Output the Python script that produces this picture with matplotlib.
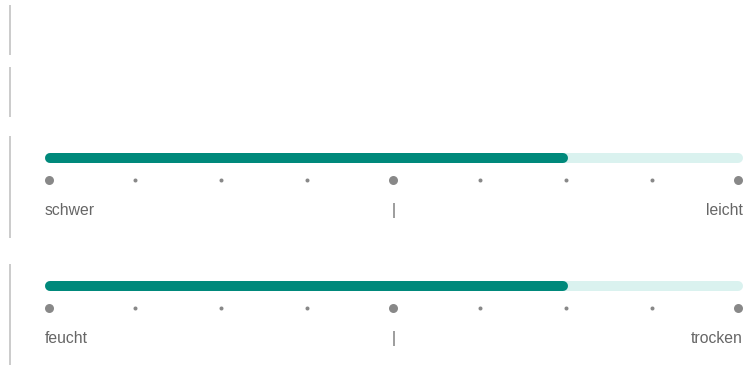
import matplotlib.pyplot as plt

# slider data (scale 1..9)
left_labels = ['schwer', 'feucht']
right_labels = ['leicht', 'trocken']
mid_label = '|'
values = [7, 7]
scale_min, scale_max = 1, 9
steps = list(range(scale_min, scale_max + 1))
big_steps = [1, 5, 9]

W, H = 753, 365
fig = plt.figure(figsize=(W / 100, H / 100), dpi=100)
ax = fig.add_axes([0, 0, 1, 1])
ax.set_xlim(0, W)
ax.set_ylim(H, 0)
ax.axis('off')

px = 72 / 100  # points per pixel

# grey separator lines on the left
for y0, y1 in [(5, 55), (67, 117), (136, 238), (264, 365)]:
    ax.plot([10, 10], [y0, y1], color='#cccccc', lw=2 * px, solid_capstyle='butt')

bar_x0, bar_x1 = 45, 743
dot_x0, dot_x1 = 49, 738
teal = '#00897b'
light = '#daf2ef'
grey = '#888888'

for i, (lab_l, lab_r, v) in enumerate(zip(left_labels, right_labels, values)):
    y_bar = 157.5 + i * 128
    y_dot = 180 + i * 128
    y_txt = 215 + i * 128
    r = 5
    ax.plot([bar_x0 + r, bar_x1 - r], [y_bar, y_bar], color=light,
            lw=10 * px, solid_capstyle='round')
    frac = (v - scale_min) / (scale_max - scale_min)
    end = bar_x0 + frac * (bar_x1 - bar_x0)
    ax.plot([bar_x0 + r, end - r], [y_bar, y_bar], color=teal,
            lw=10 * px, solid_capstyle='round')
    for s in steps:
        x = dot_x0 + (s - scale_min) / (scale_max - scale_min) * (dot_x1 - dot_x0)
        size = 9 if s in big_steps else 4
        ax.plot(x, y_dot, 'o', ms=size * px, color=grey, mec='none')
    kw = dict(fontsize=11.3, color='#666666', va='baseline', family='Liberation Sans')
    ax.text(bar_x0, y_txt, lab_l, ha='left', **kw)
    ax.text((dot_x0 + dot_x1) / 2, y_txt, mid_label, ha='center', **kw)
    ax.text(bar_x1, y_txt, lab_r, ha='right', **kw)

fig.savefig('out.png', dpi=100)
